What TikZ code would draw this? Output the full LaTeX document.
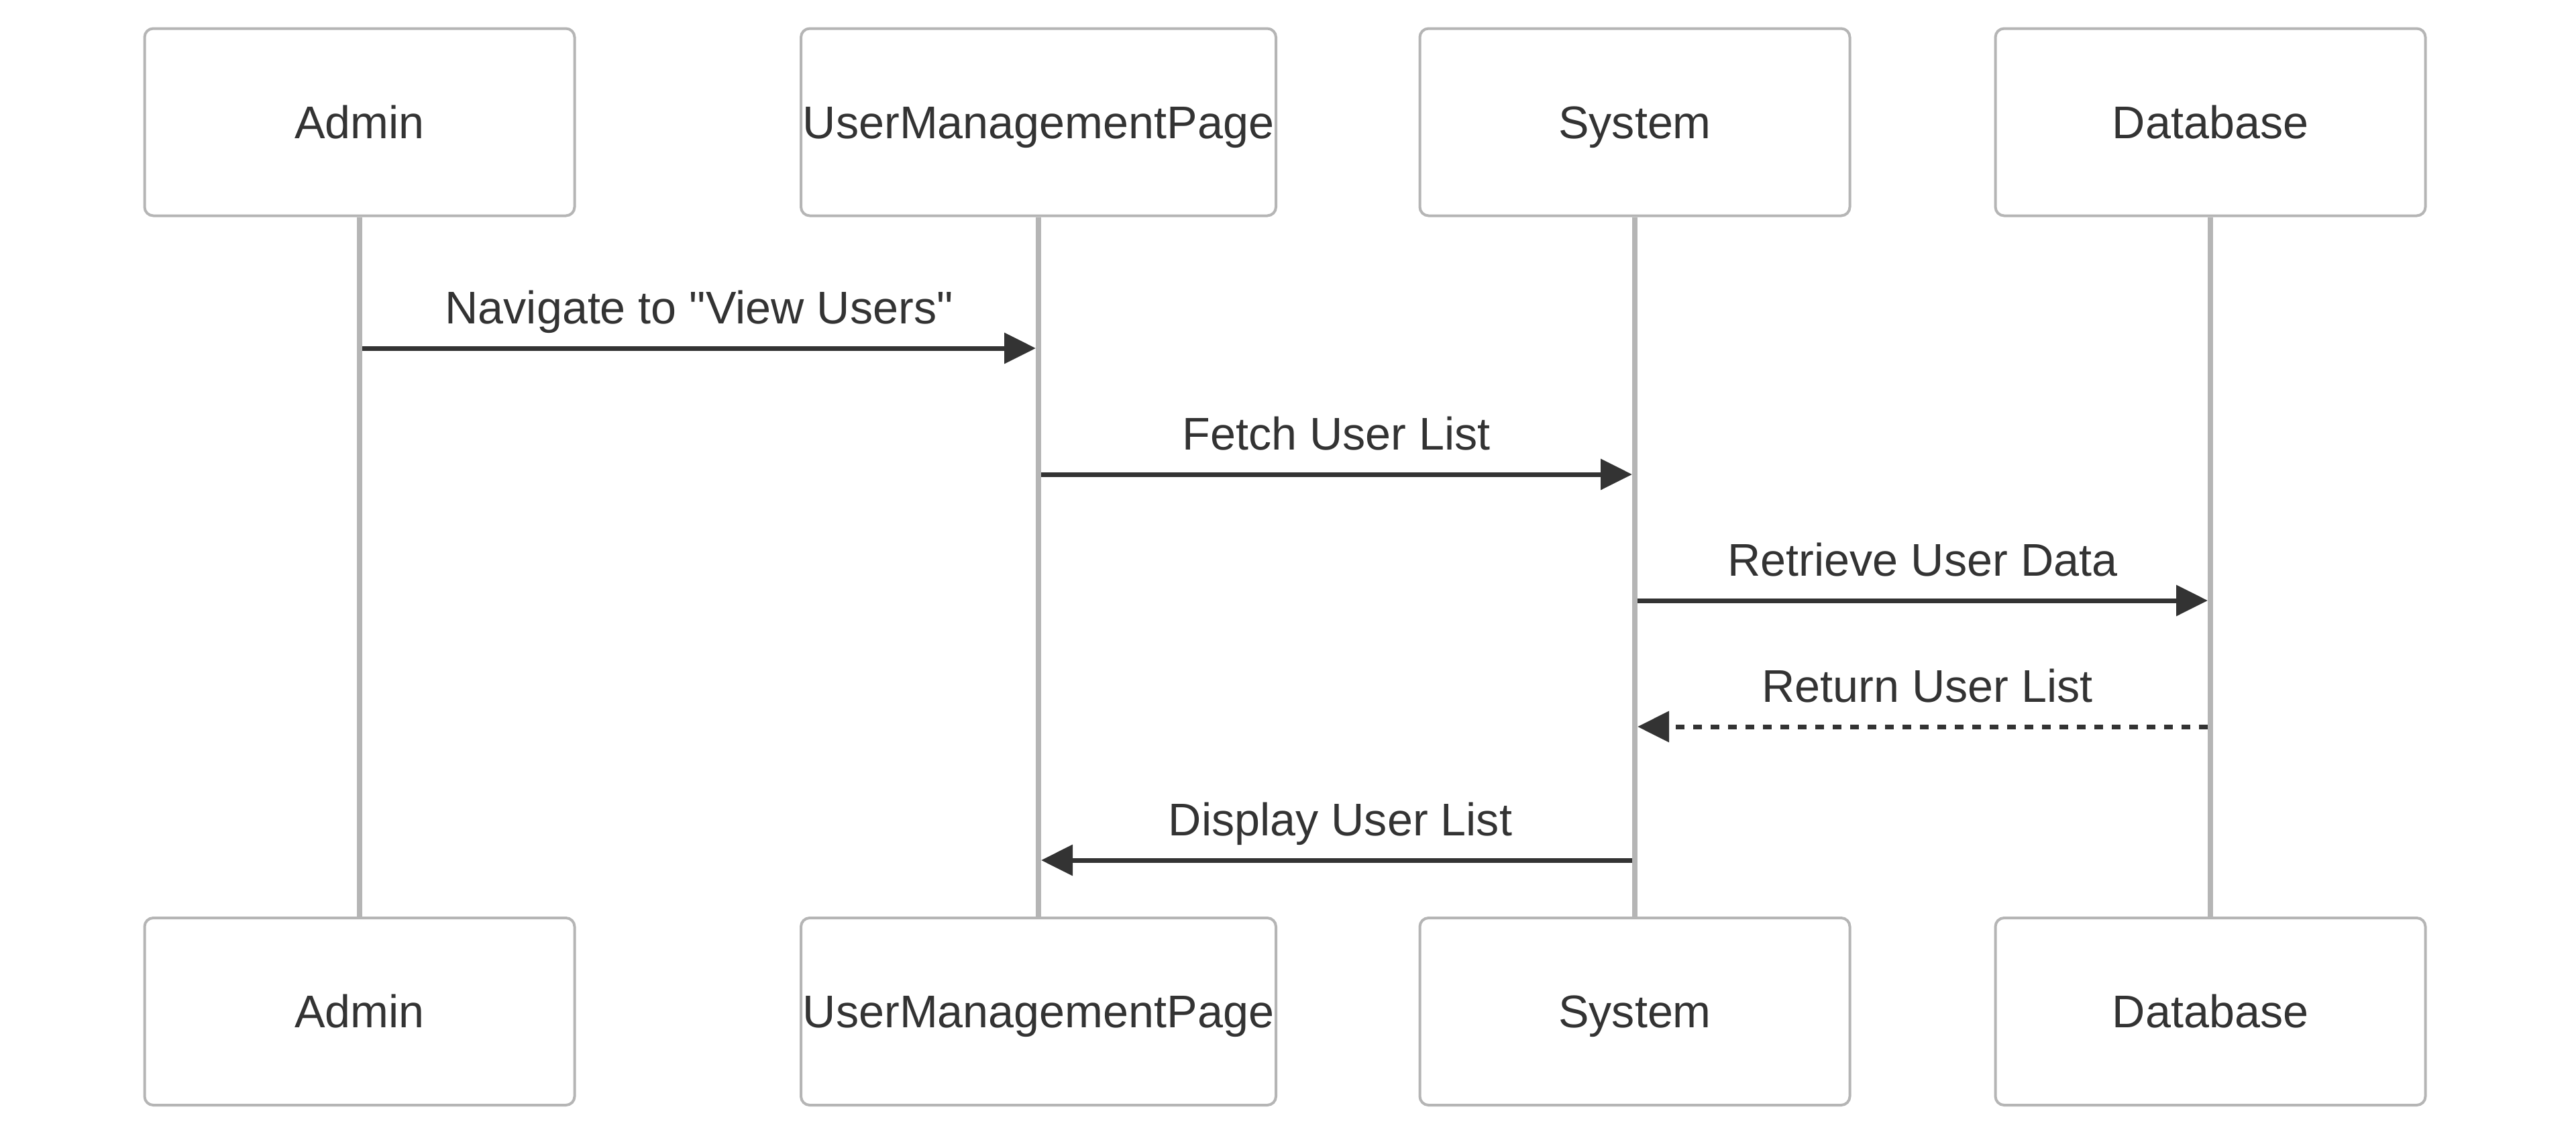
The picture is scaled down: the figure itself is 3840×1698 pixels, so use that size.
\documentclass[tikz,border=0pt]{standalone}
\usepackage{fontspec}
\setmainfont{Liberation Sans}[Ligatures=TeXOff]
\usetikzlibrary{arrows.meta}
\definecolor{boxline}{HTML}{B5B5B5}
\definecolor{ink}{HTML}{333333}
\tikzset{
  actor/.style={draw=boxline, line width=4pt, fill=white, rounded corners=13pt,
    minimum width=641pt, minimum height=279pt, inner sep=0pt, text=ink,
    text height=48pt, text depth=0pt,
    font=\fontsize{68.3}{82}\selectfont},
  wide/.style={minimum width=708pt},
  lifeline/.style={draw=boxline, line width=8pt},
  msg/.style={draw=ink, line width=7pt, -{Triangle[length=47pt,width=45pt]}},
  reply/.style={msg, dash pattern=on 13pt off 13pt},
  lbl/.style={anchor=base, text=ink, font=\fontsize{68.3}{82}\selectfont, inner sep=0pt}
}
\begin{document}
\begin{tikzpicture}[x=1pt, y=-1pt]
\useasboundingbox (0,0) rectangle (3840,1698);
% top actors
\node[actor] (admT) at (536,182) {Admin};
\node[actor, wide] (umpT) at (1548,182) {UserManagementPage};
\node[actor] (sysT) at (2437,182) {System};
\node[actor] (dbT) at (3295,182) {Database};
% bottom actors
\node[actor] (admB) at (536,1507.5) {Admin};
\node[actor, wide] (umpB) at (1548,1507.5) {UserManagementPage};
\node[actor] (sysB) at (2437,1507.5) {System};
\node[actor] (dbB) at (3295,1507.5) {Database};
% lifelines
\draw[lifeline] (admT.south) -- (admB.north);
\draw[lifeline] (umpT.south) -- (umpB.north);
\draw[lifeline] (sysT.south) -- (sysB.north);
\draw[lifeline] (dbT.south) -- (dbB.north);
% message anchor points
\coordinate (m1s) at (540,519);  \coordinate (m1e) at (1544,519);
\coordinate (m2s) at (1552,707); \coordinate (m2e) at (2433,707);
\coordinate (m3s) at (2441,895); \coordinate (m3e) at (3291,895);
\coordinate (m4s) at (3291,1083); \coordinate (m4e) at (2441,1083);
\coordinate (m5s) at (2433,1282); \coordinate (m5e) at (1552,1282);
% messages
\draw[msg] (m1s) -- (m1e);
\node[lbl] (l1) at (1042,482) {Navigate to "View Users"};
\draw[msg] (m2s) -- (m2e);
\node[lbl] (l2) at (1992,670) {Fetch User List};
\draw[msg] (m3s) -- (m3e);
\node[lbl] (l3) at (2866,858) {Retrieve User Data};
\draw[reply] (m4s) -- (m4e);
\node[lbl] (l4) at (2873,1046) {Return User List};
\draw[msg] (m5s) -- (m5e);
\node[lbl] (l5) at (1998,1245) {Display User List};
\end{tikzpicture}
\end{document}
